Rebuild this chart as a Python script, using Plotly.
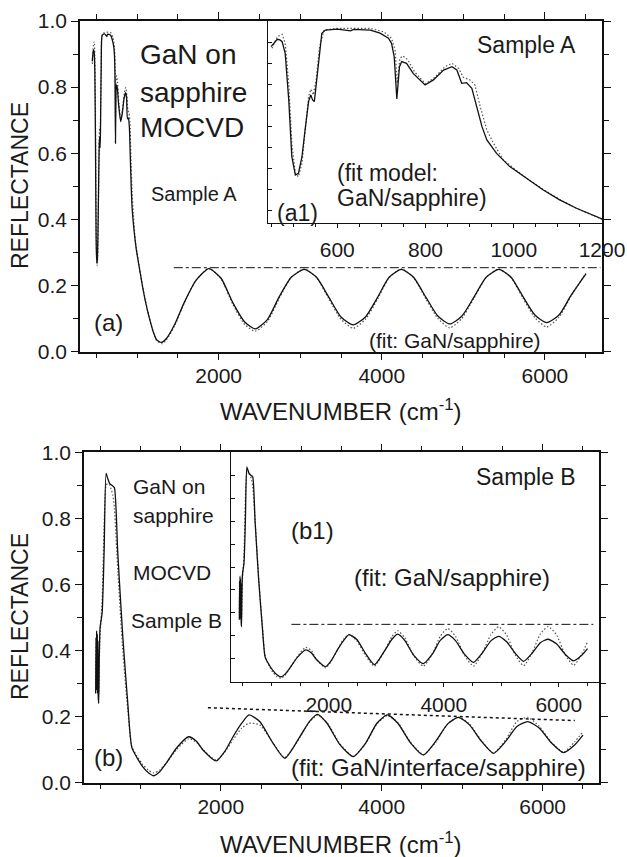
import plotly.graph_objects as go

W, H = 627, 857

# ---------------- Sample A (experiment) ----------------
a_w = [450, 458, 464, 470, 475, 482, 490, 497, 505, 512, 520, 527, 535, 540, 544, 548, 554, 560, 565, 573,
       600, 630, 637, 675, 697, 716, 723, 729, 735, 741, 746, 757, 772, 799, 818, 841, 860, 871, 882, 893,
       905, 916, 928, 939, 961, 991, 1029, 1067, 1104, 1142, 1200, 1240, 1296, 1360, 1460, 1580, 1720, 1880,
       2030, 2170, 2320, 2450, 2600, 2740, 2890, 3050, 3200, 3350, 3500, 3648, 3800, 3950, 4090, 4240, 4390,
       4540, 4690, 4834, 4980, 5130, 5280, 5436, 5585, 5730, 5880, 6021, 6170, 6320, 6503]
a_exp = [0.878, 0.900, 0.913, 0.910, 0.902, 0.846, 0.625, 0.355, 0.268, 0.276, 0.355, 0.482, 0.617, 0.649, 0.625,
         0.617, 0.736, 0.863, 0.942, 0.957, 0.961, 0.953, 0.960, 0.957, 0.942, 0.918, 0.894, 0.831, 0.630, 0.783,
         0.807, 0.799, 0.751, 0.696, 0.720, 0.767, 0.783, 0.767, 0.704, 0.707, 0.680, 0.593, 0.498, 0.435, 0.371,
         0.308, 0.252, 0.197, 0.150, 0.110, 0.059, 0.036, 0.028, 0.040, 0.082, 0.150, 0.215, 0.251, 0.222, 0.150,
         0.090, 0.069, 0.098, 0.165, 0.225, 0.249, 0.225, 0.165, 0.105, 0.081, 0.105, 0.165, 0.225, 0.249, 0.225,
         0.165, 0.107, 0.084, 0.107, 0.165, 0.225, 0.249, 0.225, 0.167, 0.110, 0.088, 0.110, 0.170, 0.235]

# Sample A fit (GaN/sapphire)
a_fit_w = [452, 464, 475, 482, 490, 497, 505, 512, 520, 527, 535, 540, 546, 552, 560, 570, 600, 675, 705, 723,
           731, 736, 742, 749, 760, 775, 800, 821, 844, 860, 875, 886, 901, 912, 924, 939, 954, 976, 999, 1029,
           1067, 1104, 1142, 1200, 1240, 1300, 1360, 1460, 1580, 1720, 1880, 2030, 2170, 2320, 2450, 2600, 2740,
           2890, 3050, 3200, 3350, 3500, 3650, 3800, 3950, 4090, 4240, 4390, 4540, 4690, 4834, 4980, 5130, 5280,
           5436, 5585, 5730, 5880, 6021, 6170, 6320, 6503]
a_fit = [0.870, 0.925, 0.937, 0.894, 0.704, 0.419, 0.276, 0.260, 0.324, 0.466, 0.641, 0.676, 0.649, 0.720, 0.878,
         0.957, 0.965, 0.965, 0.949, 0.918, 0.862, 0.704, 0.823, 0.834, 0.815, 0.759, 0.701, 0.732, 0.783, 0.799,
         0.775, 0.732, 0.720, 0.696, 0.593, 0.482, 0.419, 0.340, 0.300, 0.252, 0.199, 0.152, 0.110, 0.058, 0.034,
         0.024, 0.036, 0.078, 0.148, 0.215, 0.252, 0.220, 0.145, 0.082, 0.062, 0.092, 0.160, 0.225, 0.250, 0.224,
         0.160, 0.098, 0.071, 0.098, 0.160, 0.224, 0.250, 0.224, 0.160, 0.100, 0.072, 0.100, 0.162, 0.225, 0.250,
         0.224, 0.162, 0.102, 0.075, 0.103, 0.168, 0.238]

a_ref_w = [1450, 6680]
a_ref_r = [0.254, 0.254]

# ---------------- Sample B (experiment) ----------------
b_w = [445, 449, 453, 457, 461, 465, 469, 473, 477, 483, 490, 500, 525, 550, 575, 596, 620, 658, 678, 720,
       782, 844, 894, 960, 1031, 1100, 1168, 1240, 1322, 1450, 1600, 1700, 1778, 1944, 2050, 2152, 2260, 2351,
       2484, 2650, 2795, 2982, 3100, 3200, 3320, 3480, 3645, 3800, 3940, 4069, 4200, 4360, 4517, 4670, 4820,
       4953, 5090, 5240, 5389, 5540, 5680, 5816, 5960, 6110, 6260, 6400, 6501]
b_exp = [0.27, 0.44, 0.30, 0.46, 0.28, 0.45, 0.27, 0.43, 0.26, 0.24, 0.38, 0.47, 0.513, 0.70, 0.936, 0.92,
         0.905, 0.898, 0.893, 0.694, 0.442, 0.24, 0.107, 0.075, 0.048, 0.030, 0.021, 0.033, 0.059, 0.105, 0.139,
         0.125, 0.099, 0.066, 0.095, 0.139, 0.180, 0.205, 0.185, 0.119, 0.074, 0.139, 0.185, 0.207, 0.180, 0.115,
         0.079, 0.120, 0.180, 0.205, 0.180, 0.120, 0.084, 0.125, 0.178, 0.198, 0.175, 0.125, 0.089, 0.125, 0.170,
         0.185, 0.165, 0.120, 0.091, 0.115, 0.144]
# fit GaN/interface/sapphire (main panel b)
b_fit_int = [0.30, 0.42, 0.33, 0.45, 0.30, 0.43, 0.29, 0.41, 0.28, 0.27, 0.36, 0.45, 0.55, 0.78, 0.90, 0.905,
             0.90, 0.87, 0.83, 0.64, 0.40, 0.22, 0.11, 0.08, 0.055, 0.038, 0.030, 0.038, 0.060, 0.100, 0.133,
             0.122, 0.100, 0.068, 0.093, 0.130, 0.165, 0.180, 0.175, 0.120, 0.076, 0.137, 0.183, 0.204, 0.182,
             0.118, 0.080, 0.118, 0.178, 0.203, 0.182, 0.122, 0.085, 0.122, 0.178, 0.198, 0.178, 0.127, 0.090,
             0.130, 0.185, 0.198, 0.170, 0.122, 0.092, 0.125, 0.154]
# fit GaN/sapphire (inset b1)
b_fit_sap = [0.30, 0.40, 0.33, 0.44, 0.31, 0.43, 0.30, 0.41, 0.29, 0.28, 0.35, 0.45, 0.55, 0.80, 0.91, 0.92,
             0.91, 0.88, 0.85, 0.70, 0.45, 0.25, 0.11, 0.07, 0.04, 0.022, 0.015, 0.028, 0.058, 0.108, 0.150,
             0.135, 0.100, 0.060, 0.092, 0.140, 0.186, 0.205, 0.180, 0.110, 0.068, 0.140, 0.197, 0.222, 0.192,
             0.112, 0.068, 0.120, 0.198, 0.232, 0.200, 0.115, 0.068, 0.125, 0.205, 0.239, 0.205, 0.118, 0.070,
             0.128, 0.208, 0.240, 0.205, 0.118, 0.072, 0.120, 0.174]

b_ref_w = [1840, 6400]
b_ref_r = [0.227, 0.188]
b1_ref_w = [1350, 6600]
b1_ref_r = [0.25, 0.25]

main_xticks = [2000, 4000, 6000]
a1_xticks = [600, 800, 1000, 1200]

FONT = "Liberation Sans, Arial, sans-serif"
TXT = "#1a1a1a"


def dom_x(p0, p1):
    return [p0 / W, p1 / W]


def dom_y(top, bottom):
    return [1 - bottom / H, 1 - top / H]


fig = go.Figure()

solid = dict(color="#111111", width=1.3)
dotted = dict(color="#555555", width=1.2, dash="1.5px,2px")

# panel a (main)
fig.add_trace(go.Scatter(x=a_fit_w, y=a_fit, mode="lines", line=dict(**dotted, shape="spline", smoothing=0.6),
                         xaxis="x", yaxis="y"))
fig.add_trace(go.Scatter(x=a_w, y=a_exp, mode="lines", line=dict(**solid, shape="spline", smoothing=0.6),
                         xaxis="x", yaxis="y"))
fig.add_trace(go.Scatter(x=a_ref_w, y=a_ref_r, mode="lines", line=dict(color="#111", width=1, dash="dashdot"),
                         xaxis="x", yaxis="y"))
# inset a1
fig.add_trace(go.Scatter(x=a_fit_w, y=a_fit, mode="lines", line=dotted, xaxis="x2", yaxis="y2"))
fig.add_trace(go.Scatter(x=a_w, y=a_exp, mode="lines", line=solid, xaxis="x2", yaxis="y2"))
# panel b (main)
fig.add_trace(go.Scatter(x=b_w, y=b_fit_int, mode="lines", line=dict(**dotted, shape="spline", smoothing=0.6),
                         xaxis="x3", yaxis="y3"))
fig.add_trace(go.Scatter(x=b_w, y=b_exp, mode="lines", line=dict(**solid, shape="spline", smoothing=0.6),
                         xaxis="x3", yaxis="y3"))
fig.add_trace(go.Scatter(x=b_ref_w, y=b_ref_r, mode="lines", line=dict(color="#111", width=1.5, dash="dot"),
                         xaxis="x3", yaxis="y3"))
# inset b1
fig.add_trace(go.Scatter(x=b_w, y=b_fit_sap, mode="lines", line=dict(**dotted, shape="spline", smoothing=0.6),
                         xaxis="x4", yaxis="y4"))
fig.add_trace(go.Scatter(x=b_w, y=b_exp, mode="lines", line=dict(**solid, shape="spline", smoothing=0.6),
                         xaxis="x4", yaxis="y4"))
fig.add_trace(go.Scatter(x=b1_ref_w, y=b1_ref_r, mode="lines", line=dict(color="#111", width=1, dash="dashdot"),
                         xaxis="x4", yaxis="y4"))

tickfont = dict(family=FONT, size=21, color=TXT)

common = dict(automargin=False, showgrid=False, zeroline=False, showline=True, linecolor="#111",
              tickcolor="#111")
main_x = dict(common, range=[300, 6700], tickvals=main_xticks, ticks="outside", ticklen=7, tickwidth=1.2,
              linewidth=1.5, mirror="ticks", tickfont=tickfont, ticklabelstandoff=-3,
              minor=dict(dtick=500, tick0=0, ticks="outside", ticklen=5, tickcolor="#111"))
main_y = dict(common, range=[0, 1.0], dtick=0.2, tick0=0, tickformat=".1f", ticks="outside", ticklen=7,
              tickwidth=1.2, linewidth=1.5, mirror="ticks", tickfont=tickfont,
              minor=dict(dtick=0.1, ticks="outside", ticklen=5, tickcolor="#111"))

fig.update_layout(
    template="none",
    width=W, height=H, margin=dict(l=0, r=0, t=0, b=0, pad=0), autosize=False,
    paper_bgcolor="white", plot_bgcolor="white", showlegend=False,
    font=dict(family=FONT, color=TXT),
    xaxis=dict(main_x, domain=dom_x(80, 602), anchor="y"),
    yaxis=dict(main_y, domain=dom_y(21, 351.7), anchor="x"),
    xaxis2=dict(common, domain=dom_x(268, 602), anchor="y2", range=[443, 1200.01], tickvals=a1_xticks,
                ticks="outside", ticklen=4, linewidth=1.2, mirror=True, tickfont=tickfont, ticklabelstandoff=4,
                minor=dict(dtick=50, tick0=0, ticks="outside", ticklen=3, tickcolor="#111")),
    yaxis2=dict(common, domain=dom_y(21, 223), anchor="x2", range=[0.04, 1.0],
                tickvals=[0.1, 0.2, 0.3, 0.4, 0.5, 0.6, 0.7, 0.8, 0.9], showticklabels=False,
                ticks="inside", ticklen=4, linewidth=1.2, mirror=True),
    xaxis3=dict(main_x, domain=dom_x(84, 599), anchor="y3"),
    yaxis3=dict(main_y, domain=dom_y(452.3, 782.7), anchor="x3"),
    xaxis4=dict(common, domain=dom_x(231, 599), anchor="y4", range=[300, 6700], tickvals=main_xticks,
                ticks="outside", ticklen=4, linewidth=1.2, mirror=True, tickfont=tickfont,
                minor=dict(dtick=500, tick0=0, ticks="outside", ticklen=3, tickcolor="#111")),
    yaxis4=dict(common, domain=dom_y(452.3, 681.7), anchor="x4", range=[0, 1.0], dtick=0.1, tick0=0,
                showticklabels=False, ticks="inside", ticklen=4, linewidth=1.2, mirror=True),
)


def note(text, px, py, size, xanchor="left", angle=0):
    fig.add_annotation(text=text, x=px / W, y=1 - py / H, xref="paper", yref="paper", showarrow=False,
                       xanchor=xanchor, yanchor="middle", textangle=angle, borderpad=0, borderwidth=0,
                       font=dict(family=FONT, size=size, color=TXT))


# axis titles
note("REFLECTANCE", 20, 186, 23, xanchor="center", angle=-90)
note("REFLECTANCE", 20, 617, 23, xanchor="center", angle=-90)
note("WAVENUMBER (cm<sup>-1</sup>)", 341, 410, 24, xanchor="center")
note("WAVENUMBER (cm<sup>-1</sup>)", 341, 843, 24, xanchor="center")

# panel a texts
note("GaN on", 140, 55, 28)
note("sapphire", 140, 92, 28)
note("MOCVD", 140, 127, 28)
note("Sample A", 151, 194, 20)
note("(a)", 94, 322, 24)
note("(fit: GaN/sapphire)", 369, 340, 21)
note("Sample A", 477, 45, 23)
note("(fit model:", 337, 173, 23)
note("GaN/sapphire)", 337, 198, 23)
note("(a1)", 277, 213, 23)

# panel b texts
note("GaN on", 133, 487, 21)
note("sapphire", 133, 515, 21)
note("MOCVD", 133, 572, 21)
note("Sample B", 131, 620, 21)
note("(b)", 94, 757, 24)
note("(b1)", 291, 530, 24)
note("(fit: GaN/sapphire)", 354, 577, 24)
note("Sample B", 476, 477, 23)
note("(fit: GaN/interface/sapphire)", 291, 767, 24)

fig.write_html("out.html", config={"displayModeBar": False},
               post_script="document.body.style.margin='0';document.body.style.overflow='hidden';")
